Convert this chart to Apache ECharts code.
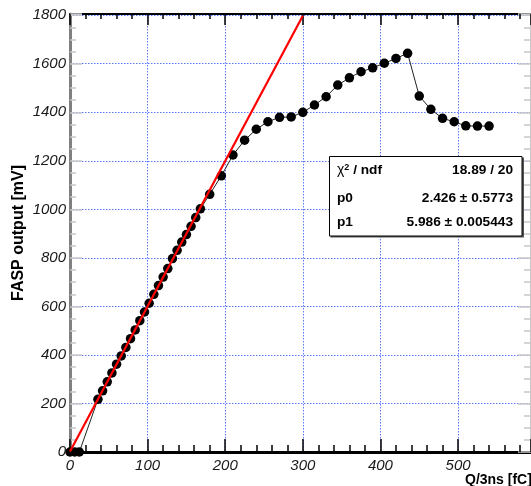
<!DOCTYPE html>
<html>
<head>
<meta charset="utf-8">
<script src="https://cdn.jsdelivr.net/npm/echarts@6/dist/echarts.min.js"></script>
<style>
  html, body { margin: 0; padding: 0; background: #fff; }
  #chart { width: 531px; height: 486px; }
</style>
</head>
<body>
<div id="chart"></div>
<script>
// Measured charge (fC) and FASP output amplitude (mV)
const chargeFC = [
  0, 6, 12,
  36, 42, 48, 54, 60, 66, 72, 78, 84, 90, 96, 102, 108, 114, 120, 126, 132, 138, 144, 150, 156, 162, 168,
  180, 195, 210, 225, 240, 255, 270, 285, 300, 315, 330, 345, 360, 375, 390, 405, 420, 435,
  450, 465, 480, 495, 510, 525, 540
];
const outputMV = [
  0, 0, 0,
  217, 252, 289, 326, 362, 396, 431, 467, 503, 541, 577, 613, 650, 686, 721, 756, 797, 831, 865, 896, 930, 966, 1002,
  1062, 1138, 1224, 1285, 1330, 1361, 1379, 1381, 1400, 1430, 1464, 1512, 1542, 1567, 1583, 1602, 1622, 1643,
  1467, 1412, 1375, 1361, 1344, 1343, 1343
];

// Linear fit pol1: y = p0 + p1 * x over the fit range
const fitRange = [0, 300];
const fitP0 = [2.426, 0.5773];      // value, error
const fitP1 = [5.986, 0.005443];    // value, error
const fitChi2 = [18.89, 20];        // chi2, ndf

// Axis ticks
const xTicks = { min: 0, max: 594, interval: 100 };
const yTicks = { min: 0, max: 1805, interval: 200 };

const points = chargeFC.map((q, i) => [q, outputMV[i]]);
const fitLine = fitRange.map(x => [x, fitP0[0] + fitP1[0] * x]);

const chart = echarts.init(document.getElementById('chart'), null, { renderer: 'canvas' });

const labelFont = {
  fontFamily: 'Liberation Sans, Arial, sans-serif',
  fontStyle: 'italic',
  fontSize: 15,
  color: '#1a1a1a',
  formatter: v => String(v)
};
const boldFont = 'Liberation Sans, Arial, sans-serif';

const gridLine = () => ({ show: true, lineStyle: { color: '#5a78ff', width: 1, type: [1.5, 1.5] } });

const statsText = (txt, x, y, align) => ({
  type: 'text', z: 101, x: x, y: y,
  style: {
    text: txt, fill: '#000', align: align, verticalAlign: 'middle',
    font: 'bold 13.7px ' + boldFont
  }
});

chart.setOption({
  backgroundColor: '#fff',
  animation: false,
  grid: { left: 70, top: 14, width: 462, height: 438, containLabel: false },
  xAxis: [
    {
      type: 'value', position: 'bottom',
      min: xTicks.min, max: xTicks.max, interval: xTicks.interval,
      axisLine: { show: true, onZero: false, lineStyle: { color: '#000', width: 3 } },
      axisTick: { show: true, inside: true, length: 13, lineStyle: { color: '#000', width: 1.5 } },
      minorTick: { show: true, splitNumber: 5, length: 7, lineStyle: { color: '#000', width: 1.5 } },
      axisLabel: Object.assign({ margin: 6, showMaxLabel: false }, labelFont),
      splitLine: gridLine()
    },
    {
      type: 'value', position: 'top',
      min: xTicks.min, max: xTicks.max, interval: xTicks.interval,
      axisLine: { show: true, onZero: false, lineStyle: { color: '#000', width: 2 } },
      axisTick: { show: true, inside: true, length: 11, lineStyle: { color: '#000', width: 1.5 } },
      minorTick: { show: true, splitNumber: 5, length: 5, lineStyle: { color: '#000', width: 1.5 } },
      axisLabel: { show: false },
      splitLine: { show: false },
      minorSplitLine: { show: false }
    }
  ],
  yAxis: [
    {
      type: 'value', position: 'left',
      min: yTicks.min, max: yTicks.max, interval: yTicks.interval,
      name: 'FASP output [mV]', nameLocation: 'middle', nameGap: 43, nameMoveOverlap: false,
      nameTextStyle: { fontFamily: boldFont, fontWeight: 'bold', fontSize: 16, color: '#000' },
      axisLine: { show: true, onZero: false, lineStyle: { color: '#808080', width: 3 } },
      axisTick: { show: true, inside: true, length: 12, lineStyle: { color: '#c8c8c8', width: 1.5 } },
      minorTick: { show: true, splitNumber: 4, length: 6, lineStyle: { color: '#c8c8c8', width: 1.5 } },
      axisLabel: Object.assign({ margin: 4, showMaxLabel: false }, labelFont),
      splitLine: gridLine()
    },
    {
      type: 'value', position: 'right',
      min: yTicks.min, max: yTicks.max, interval: yTicks.interval,
      axisLine: { show: true, onZero: false, lineStyle: { color: '#c8c8c8', width: 2 } },
      axisTick: { show: true, inside: true, length: 13, lineStyle: { color: '#c8c8c8', width: 1.5 } },
      minorTick: { show: true, splitNumber: 4, length: 7, lineStyle: { color: '#c8c8c8', width: 1.5 } },
      axisLabel: { show: false },
      splitLine: { show: false },
      minorSplitLine: { show: false }
    }
  ],
  series: [
    {
      name: 'data', type: 'line', xAxisIndex: 0, yAxisIndex: 0,
      data: points,
      symbol: 'circle', symbolSize: 9.5,
      itemStyle: { color: '#000' },
      lineStyle: { color: '#222', width: 1 },
      z: 3
    },
    {
      name: 'pol1', type: 'line', xAxisIndex: 0, yAxisIndex: 0,
      data: fitLine,
      symbol: 'none',
      lineStyle: { color: '#ff0000', width: 2.2 },
      z: 4
    }
  ],
  graphic: [
    {
      type: 'text', x: 465, y: 480, z: 100,
      style: { text: 'Q/3ns [fC]', fill: '#000', align: 'left', verticalAlign: 'middle',
               font: 'bold 14px ' + boldFont }
    },
    {
      type: 'rect', z: 99,
      shape: { x: 330.5, y: 157.5, width: 193.5, height: 80 },
      style: { fill: '#555' }
    },
    {
      type: 'rect', z: 100,
      shape: { x: 329.5, y: 156.5, width: 192.5, height: 79.5 },
      style: { fill: '#fff', stroke: '#000', lineWidth: 1 }
    },
    {
      type: 'text', z: 101, x: 337, y: 170.5,
      style: {
        text: '{c|χ}{s|2}{n| / ndf}', verticalAlign: 'middle', align: 'left',
        rich: {
          c: { font: '14px ' + boldFont, fill: '#000' },
          s: { font: 'bold 9px ' + boldFont, fill: '#000', verticalAlign: 'top', padding: [0, 0, 6, 0] },
          n: { font: 'bold 13.7px ' + boldFont, fill: '#000' }
        }
      }
    },
    statsText(fitChi2[0].toFixed(2) + ' / ' + fitChi2[1], 513, 170.5, 'right'),
    statsText('p0', 337, 198, 'left'),
    statsText(fitP0[0].toFixed(3) + ' \u00b1 ' + fitP0[1].toFixed(4), 513, 198, 'right'),
    statsText('p1', 337, 222.5, 'left'),
    statsText(fitP1[0].toFixed(3) + ' \u00b1 ' + fitP1[1].toFixed(6), 513, 222.5, 'right')
  ]
});
</script>
</body>
</html>
